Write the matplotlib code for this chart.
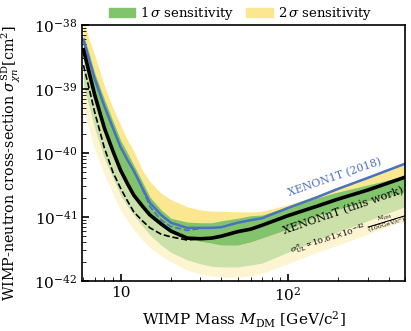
import numpy as np
import matplotlib
matplotlib.use('Agg')
import matplotlib.pyplot as plt
from matplotlib.patches import Patch
from matplotlib.ticker import NullFormatter

plt.rcParams['font.family'] = ['DejaVu Serif']
plt.rcParams['mathtext.fontset'] = 'dejavuserif'

# WIMP masses [GeV/c^2]
mass = np.array([6, 6.5, 7, 8, 9, 10, 11, 12, 13.5, 15, 17.5, 20, 25, 30, 35, 40, 50, 60, 70,
                 100, 150, 200, 300, 500])

# log10 of cross-sections [cm^2]
median_sens = np.array([-38.39, -38.75, -39.09, -39.61, -39.97, -40.27, -40.48, -40.66, -40.83,
                        -40.97, -41.11, -41.22, -41.33, -41.38, -41.41, -41.44, -41.44, -41.39,
                        -41.33, -41.19, -40.98, -40.88, -40.75, -40.61])
unconstrained = np.array([-38.63, -39.00, -39.36, -39.92, -40.30, -40.55, -40.75, -40.92, -41.06,
                          -41.17, -41.27, -41.31, -41.36, -41.34, -41.33, -41.30, -41.23, -41.19,
                          -41.13, -40.98, -40.83, -40.72, -40.58, -40.38])
up1 = np.array([-38.16, -38.45, -38.75, -39.16, -39.50, -39.80, -40.00, -40.19, -40.45,
                -40.69, -40.89, -41.02, -41.08, -41.09, -41.09, -41.06, -41.02, -40.98,
                -40.97, -40.84, -40.70, -40.61, -40.50, -40.36])
up2 = np.array([-37.92, -38.23, -38.47, -38.95, -39.30, -39.56, -39.80, -39.97, -40.27,
                -40.45, -40.63, -40.73, -40.84, -40.89, -40.91, -40.91, -40.92, -40.92,
                -40.91, -40.81, -40.66, -40.53, -40.38, -40.17])
low1 = np.array([-38.94, -39.28, -39.61, -40.08, -40.39, -40.66, -40.83, -40.97, -41.14,
                 -41.28, -41.44, -41.55, -41.67, -41.73, -41.77, -41.78, -41.78, -41.75,
                 -41.72, -41.55, -41.36, -41.23, -41.06, -40.84])
low2 = np.array([-39.30, -39.64, -39.95, -40.34, -40.64, -40.89, -41.06, -41.20, -41.36,
                 -41.48, -41.61, -41.70, -41.83, -41.89, -41.92, -41.94, -41.94, -41.92,
                 -41.88, -41.73, -41.55, -41.44, -41.27, -41.05])
xenon1t = np.array([-38.23, -38.55, -38.84, -39.27, -39.61, -39.91, -40.11, -40.28, -40.55,
                    -40.78, -40.97, -41.09, -41.17, -41.17, -41.17, -41.16, -41.09, -41.05,
                    -41.02, -40.86, -40.69, -40.56, -40.39, -40.17])

mass_1t_dash = np.array([13.5, 15, 17.5, 20, 25, 30])
xenon1t_dash = np.array([-40.56, -40.84, -41.05, -41.15, -41.21, -41.18])

yticks = [1e-42, 1e-41, 1e-40, 1e-39, 1e-38]
ytick_labels = ['$10^{-42}$', '$10^{-41}$', '$10^{-40}$', '$10^{-39}$', '$10^{-38}$']

# power constrained limit
limit = np.maximum(median_sens, unconstrained)

green = '#82c46c'
yellow = '#fbe78f'
blue = '#4a70c0'

fig = plt.figure(figsize=(4.11, 3.31), dpi=100)
ax = fig.add_axes([0.2, 0.151, 0.785, 0.774])

p = lambda a: 10.0 ** a

ax.fill_between(mass, p(median_sens), p(up2), color=yellow, lw=0)
ax.fill_between(mass, p(median_sens), p(up1), color=green, lw=0)
ax.fill_between(mass, p(low2), p(median_sens), color=yellow, alpha=0.4, lw=0)
ax.fill_between(mass, p(low1), p(median_sens), color=green, alpha=0.4, lw=0)

ax.plot(mass, p(xenon1t), color=blue, lw=1.8)
ax.plot(mass_1t_dash, p(xenon1t_dash), color=blue, lw=1.2, ls='--')
ax.plot(mass, p(unconstrained), color='k', lw=1.2, ls='--')
ax.plot(mass, p(limit), color='k', lw=2.6)

ax.set_xscale('log')
ax.set_yscale('log')
ax.set_xlim(5.9, 500)
ax.set_ylim(1e-42, 1e-38)
ax.set_xticks([10, 100])
ax.set_xticklabels(['10', '$10^2$'])
ax.set_yticks(yticks)
ax.set_yticklabels(ytick_labels)
ax.xaxis.set_minor_formatter(NullFormatter())
ax.yaxis.set_minor_formatter(NullFormatter())
ax.tick_params(which='both', direction='in', top=False, right=False, labelsize=11)
ax.tick_params(which='major', length=5, width=1.2)
ax.tick_params(which='minor', length=3)
for s in ax.spines.values():
    s.set_linewidth(1.2)

ax.set_xlabel(r'WIMP Mass $M_{\rm DM}$ [GeV/c$^2$]', fontsize=11)
ax.set_ylabel(r'WIMP-neutron cross-section $\sigma^{\rm SD}_{\chi n}$[cm$^2$]', fontsize=10.3)
ax.yaxis.set_label_coords(-0.185, 0.46)

ax.text(190, p(-40.38), 'XENON1T (2018)', color=blue, fontsize=7.8, rotation=19,
        ha='center', va='center')
ax.text(216, p(-40.91), 'XENONnT (this work)', color='k', fontsize=8.2, rotation=19,
        ha='center', va='center')
ax.text(228, p(-41.26), r'$\sigma^{n}_{\rm UL} \propto 10.61{\times}10^{-42}\ \frac{M_{\rm DM}}{(100\,{\rm GeV/c^2})}$',
        color='k', fontsize=6.0, rotation=17, ha='center', va='center')

handles = [Patch(color=green, label=r'$1\,\sigma$ sensitivity'),
           Patch(color=yellow, label=r'$2\,\sigma$ sensitivity')]
ax.legend(handles=handles, loc='lower center', bbox_to_anchor=(0.49, 0.99), ncol=2,
          frameon=False, fontsize=9.5, handlelength=2.0, columnspacing=0.9,
          borderaxespad=0.0, handletextpad=0.4)

fig.savefig('out.png', dpi=100)
